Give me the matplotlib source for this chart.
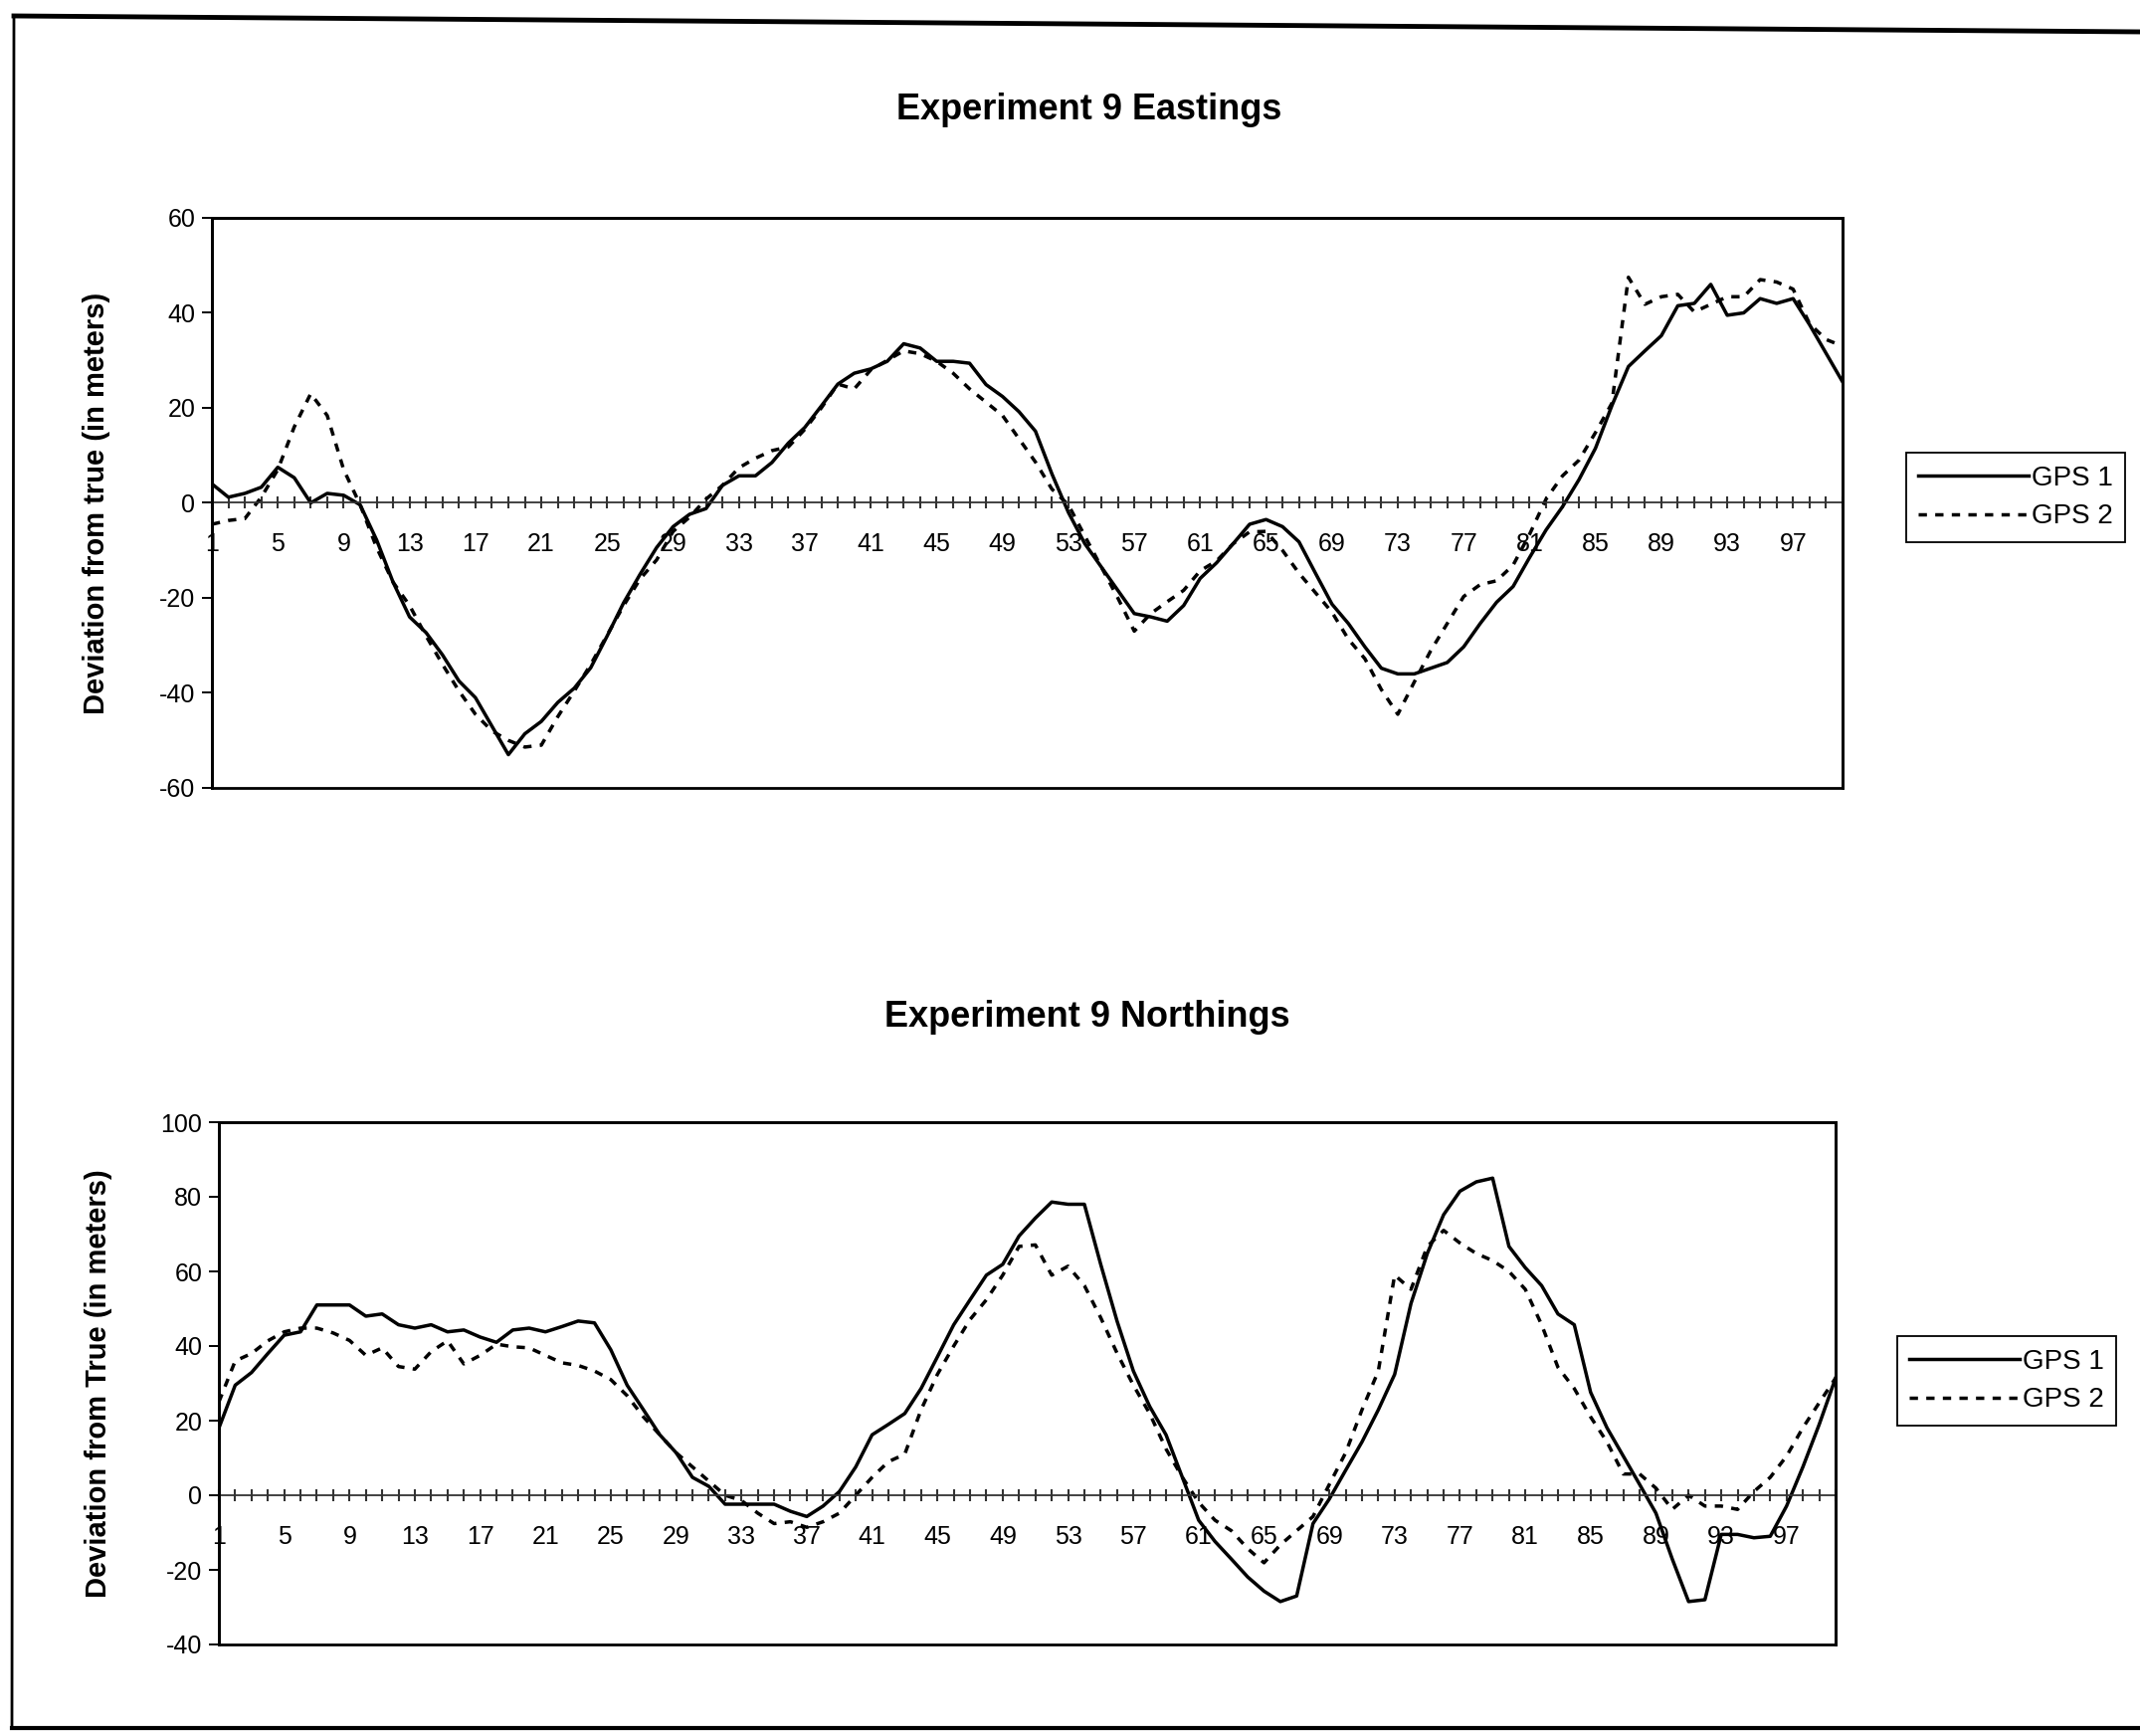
import numpy as np
import matplotlib
matplotlib.use('Agg')
import matplotlib.pyplot as plt
from matplotlib.lines import Line2D
from matplotlib.patches import Rectangle

plt.rcParams['font.family'] = ['Liberation Sans', 'DejaVu Sans']
plt.rcParams['axes.unicode_minus'] = False

# sample number along the run
samples = list(range(1, 101))

# Eastings deviation (m)
east_gps1 = [4, 1.2, 2, 3.3, 7.5, 5.3, 0, 2, 1.6, -0.4,
             -7.8, -16.7, -24, -27.3, -32, -37.5, -41, -47, -53, -48.6,
             -46, -42, -39, -34.7, -28, -21, -15, -9.4, -5, -2.4,
             -1.2, 3.7, 5.7, 5.7, 8.5, 12.6, 15.9, 20.4, 25, 27.3,
             28.2, 29.8, 33.5, 32.6, 29.8, 29.8, 29.4, 24.9, 22.4, 19.2,
             15.1, 6.1, -2, -8.6, -13.5, -18.4, -23.3, -24, -24.9, -21.6,
             -15.9, -12.6, -8.6, -4.5, -3.5, -5, -8.2, -14.8, -21.3, -25.4,
             -30.3, -34.8, -36, -36, -34.8, -33.6, -30.3, -25.4, -20.9, -17.6,
             -11.5, -5.7, -0.8, 4.9, 11.5, 20.5, 28.7, 32, 35.2, 41.5,
             42, 46, 39.5, 40, 43, 42, 43, 37.5, 31.5, 25.5]
east_gps2 = [-4.5, -3.7, -3.3, 1.2, 7, 16, 23, 18.4, 7, -0.4,
             -9.4, -16.7, -21.6, -28, -34, -39.6, -44.5, -48, -50, -51.4,
             -51, -45, -39.6, -34, -27.8, -21.6, -16, -12, -6, -3,
             0.8, 3.7, 7.4, 9.4, 11, 11.8, 15.5, 20, 25, 24,
             28, 30, 32, 31.4, 29.8, 27.3, 24, 21.2, 18.4, 13.5,
             8.6, 2.9, -0.4, -7, -13.5, -20, -27, -23.3, -20.8, -18.4,
             -14.3, -12.2, -8.6, -6.1, -6, -10, -14.8, -18.9, -23, -28.7,
             -32.8, -39.3, -44.5, -37.7, -31.1, -25.4, -19.7, -17.2, -16.4, -13.1,
             -6.6, 0.8, 5.7, 9, 14.8, 21, 47.5, 41.8, 43.4, 43.9,
             40.2, 41.8, 43.4, 43.4, 47, 46.5, 45, 37.7, 34.4, 33]

# Northings deviation (m)
north_gps1 = [18, 29.5, 32.9, 38, 42.9, 43.8, 51, 51, 51, 48,
              48.6, 45.7, 44.8, 45.7, 43.8, 44.3, 42.4, 41, 44.3, 44.8,
              43.8, 45.2, 46.7, 46.2, 39, 29.5, 22.9, 16.2, 11.4, 4.8,
              2.4, -2.4, -2.4, -2.4, -2.4, -4.3, -5.7, -2.9, 1, 7.6,
              16.2, 19, 21.9, 28.6, 37.1, 45.7, 52.4, 59, 61.9, 69.5,
              74.3, 78.6, 78, 78, 61.9, 46.7, 33.3, 23.8, 16.2, 4.8,
              -6.7, -12.4, -17.1, -21.9, -25.7, -28.5, -27, -7.6, -1, 6.7,
              14.3, 22.9, 32.4, 51.4, 64.8, 75.2, 81.5, 84, 85, 66.7,
              61, 56.2, 48.6, 45.7, 27.6, 18.1, 10.5, 2.9, -4.8, -17.1,
              -28.5, -28, -10.5, -10.5, -11.4, -11, -2.9, 7.6, 19, 31.4]
north_gps2 = [25, 36, 38, 41.4, 43.8, 44.8, 44.8, 43.5, 41.5, 37.5,
              39.5, 34.5, 33.8, 38.5, 41.4, 35.2, 37.5, 40.5, 39.8, 39.5,
              37.5, 35.5, 34.8, 33.3, 31, 26.7, 21, 16.2, 11.4, 7.6,
              3.8, 0, -1.4, -4.8, -7.6, -7.1, -8.6, -7.1, -4.8, 0,
              4.8, 9, 11, 22.9, 32.4, 40, 47.1, 52.4, 59, 66.7,
              67.1, 59, 61.4, 56.2, 47.6, 38.1, 29.5, 21.9, 12.4, 4.8,
              -1.9, -6.7, -9.5, -14.3, -18.1, -13.3, -9.5, -5.7, 2.9, 11.4,
              22.9, 33.3, 59, 55.2, 66.7, 71, 67.6, 64.8, 62.9, 60,
              55.2, 45.7, 34.3, 28.6, 21, 14.3, 5.7, 5.7, 1.9, -3.8,
              0, -2.9, -2.9, -3.8, 1, 4.8, 10.5, 18.1, 24.8, 31.4]

W, H = 2151, 1745


def px_box(left, top, right, bottom):
    # pixel box (from top-left) -> figure fraction rect
    return [left / W, 1 - bottom / H, (right - left) / W, (bottom - top) / H]


def draw_panel(ax, g1, g2, ylim, yticks, title, title_xy, ylabel, label_x, leg_xy):
    ax.plot(samples, g1, color='black', lw=2.5, label='GPS 1')
    ax.plot(samples, g2, color='black', lw=2.5, linestyle=(0, (2.4, 2.4)),
            label='GPS 2')
    ax.set_xlim(1, 100)
    ax.set_ylim(*ylim)
    ax.set_yticks(yticks)

    # category axis crosses at zero
    ax.spines['bottom'].set_position(('data', 0))
    ax.spines['bottom'].set_color('#333333')
    ax.spines['bottom'].set_linewidth(1.3)
    for s in ['left', 'right', 'top']:
        ax.spines[s].set_linewidth(2)
    ax.add_patch(Rectangle((0, 0), 1, 1, transform=ax.transAxes, fill=False,
                           lw=2, ec='black', clip_on=False, zorder=3))

    ax.set_xticks(samples)
    ax.set_xticklabels([str(i) if (i - 1) % 4 == 0 else '' for i in samples])
    ax.tick_params(axis='x', direction='inout', length=9, width=1.5,
                   color='#333333', labelsize=18, pad=17)
    ax.tick_params(axis='y', direction='out', length=7, width=1.4,
                   labelsize=18, pad=5)

    fig.text(title_xy[0], title_xy[1], title, ha='center', va='center',
             fontsize=26, fontweight='bold')
    ax.set_ylabel(ylabel, fontsize=21, fontweight='bold')
    ax.yaxis.set_label_coords(label_x, 0.5)

    leg = fig.legend(handles=ax.get_lines(), loc='center',
                     bbox_to_anchor=leg_xy, fontsize=20, frameon=True,
                     fancybox=False, edgecolor='black', framealpha=1,
                     handlelength=4.0, handletextpad=0.1, borderpad=0.45,
                     labelspacing=0.45, borderaxespad=0)
    leg.get_frame().set_linewidth(1.3)


fig = plt.figure(figsize=(W / 100, H / 100), dpi=100)
ax1 = fig.add_axes(px_box(213, 219, 1852, 792))
ax2 = fig.add_axes(px_box(220, 1128, 1845, 1653))

draw_panel(ax1, east_gps1, east_gps2, (-60, 60), range(-60, 61, 20),
           'Experiment 9 Eastings', (1095 / W, 1 - 110 / H),
           'Deviation from true (in meters)', -0.062, (2026 / W, 1 - 500 / H))
draw_panel(ax2, north_gps1, north_gps2, (-40, 100), range(-40, 101, 20),
           'Experiment 9 Northings', (1093 / W, 1 - 1023 / H),
           'Deviation from True (in meters)', -0.066, (2017 / W, 1 - 1388 / H))

# outer page frame
def fig_line(p0, p1, lw):
    fig.add_artist(Line2D([p0[0] / W, p1[0] / W], [1 - p0[1] / H, 1 - p1[1] / H],
                          transform=fig.transFigure, color='black', lw=lw))

fig_line((14, 16), (2151, 32), 3.5)
fig_line((14, 16), (12, 1737), 2)
fig_line((12, 1737), (2151, 1737), 3)

fig.savefig('out.png', dpi=100)
